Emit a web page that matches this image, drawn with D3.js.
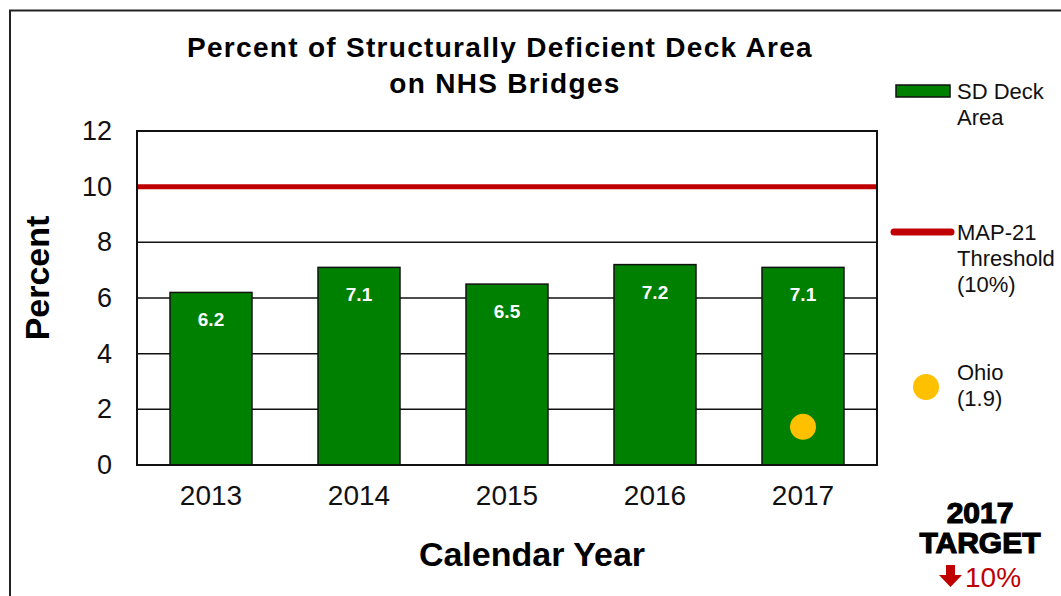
<!DOCTYPE html>
<html><head><meta charset="utf-8">
<script src="https://cdn.jsdelivr.net/npm/d3@7"></script>
<style>body{margin:0;background:#fff}svg{display:block;font-family:"Liberation Sans",Arial,sans-serif}</style>
</head><body>
<svg id="c" width="1061" height="596"></svg>
<script>
const years = ["2013","2014","2015","2016","2017"];
const sdDeckArea = [6.2, 7.1, 6.5, 7.2, 7.1];
const threshold = 10;
const ohioValue = 1.37; // plotted position as it appears
const ohioLabel = "(1.9)";
const yTicks = [0, 2, 4, 6, 8, 10, 12];

const svg = d3.select("#c");
const m = {l:137, r:877, t:131, b:465};
const x = d3.scaleBand().domain(years).range([m.l, m.r]).paddingInner(0.446).paddingOuter(0.223);
const y = d3.scaleLinear().domain([0, 12]).range([m.b, m.t]);

// outer frame
svg.append("path").attr("d","M10,596 V10.5 H1061").attr("fill","none").attr("stroke","#222").attr("stroke-width",2);

// title
svg.append("text").attr("x",500).attr("y",57).attr("text-anchor","middle").attr("font-size",28).attr("letter-spacing",1.3).attr("font-weight","bold").text("Percent of Structurally Deficient Deck Area");
svg.append("text").attr("x",505).attr("y",93).attr("text-anchor","middle").attr("font-size",28).attr("letter-spacing",1.3).attr("font-weight","bold").text("on NHS Bridges");

// gridlines
svg.append("g").selectAll("line").data(yTicks.filter(d=>d>0 && d<12 && d!==threshold)).join("line")
  .attr("x1",m.l).attr("x2",m.r).attr("y1",d=>y(d)).attr("y2",d=>y(d)).attr("stroke","#111").attr("stroke-width",1.5);

// y axis labels
const ya = svg.append("g").attr("transform",`translate(${m.l},0)`).call(d3.axisLeft(y).tickValues(yTicks).tickSize(0).tickPadding(25));
ya.select(".domain").remove();
ya.selectAll("text").attr("font-size",27).attr("font-family","Liberation Sans, Arial, sans-serif").attr("fill","#111");

// x axis labels
const xa = svg.append("g").attr("transform",`translate(0,${m.b})`).call(d3.axisBottom(x).tickSize(0).tickPadding(20));
xa.select(".domain").remove();
xa.selectAll("text").attr("font-size",28).attr("font-family","Liberation Sans, Arial, sans-serif").attr("fill","#111");

// bars
svg.append("g").selectAll("rect").data(years).join("rect")
  .attr("x",d=>x(d)).attr("width",x.bandwidth())
  .attr("y",(d,i)=>y(sdDeckArea[i])).attr("height",(d,i)=>y(0)-y(sdDeckArea[i]))
  .attr("fill","#008000").attr("stroke","#111").attr("stroke-width",1.5);

// bar labels
svg.append("g").selectAll("text").data(years).join("text")
  .attr("x",d=>x(d)+x.bandwidth()/2).attr("y",(d,i)=>y(sdDeckArea[i])+34)
  .attr("text-anchor","middle").attr("fill","#fff").attr("font-size",19).attr("font-weight","bold")
  .text((d,i)=>sdDeckArea[i].toFixed(1));

// threshold line
svg.append("line").attr("x1",m.l).attr("x2",m.r).attr("y1",y(threshold)).attr("y2",y(threshold))
  .attr("stroke","#c00000").attr("stroke-width",5);

// plot border
svg.append("rect").attr("x",m.l).attr("y",m.t).attr("width",m.r-m.l).attr("height",m.b-m.t)
  .attr("fill","none").attr("stroke","#111").attr("stroke-width",2);

// Ohio point
svg.append("circle").attr("cx",x("2017")+x.bandwidth()/2).attr("cy",y(ohioValue)).attr("r",13).attr("fill","#ffc000");

// axis titles
svg.append("text").attr("transform","translate(49,278) rotate(-90)").attr("text-anchor","middle").attr("font-size",34).attr("font-weight","bold").text("Percent");
svg.append("text").attr("x",532).attr("y",566).attr("text-anchor","middle").attr("font-size",34).attr("font-weight","bold").text("Calendar Year");

// legend
const lg = svg.append("g").attr("font-size",22).attr("fill","#111");
lg.append("rect").attr("x",896).attr("y",85).attr("width",54).attr("height",12).attr("fill","#008000").attr("stroke","#111").attr("stroke-width",1.5);
lg.append("text").attr("x",957).attr("y",99).text("SD Deck");
lg.append("text").attr("x",957).attr("y",125).text("Area");
lg.append("line").attr("x1",894).attr("x2",951).attr("y1",232).attr("y2",232).attr("stroke","#c00000").attr("stroke-width",7).attr("stroke-linecap","round");
lg.append("text").attr("x",957).attr("y",240).text("MAP-21");
lg.append("text").attr("x",957).attr("y",266).text("Threshold");
lg.append("text").attr("x",957).attr("y",292).text("(10%)");
lg.append("circle").attr("cx",926).attr("cy",387).attr("r",13).attr("fill","#ffc000");
lg.append("text").attr("x",957).attr("y",380).text("Ohio");
lg.append("text").attr("x",957).attr("y",406).text(ohioLabel);

// target
svg.append("text").attr("x",980).attr("y",523).attr("text-anchor","middle").attr("font-size",30).attr("font-weight","900").attr("stroke","#000").attr("stroke-width",1.2).text("2017");
svg.append("text").attr("x",980).attr("y",553).attr("text-anchor","middle").attr("font-size",30).attr("font-weight","900").attr("stroke","#000").attr("stroke-width",1.2).text("TARGET");
svg.append("path").attr("d","M946,565 h9 v10 h7 l-11.5,12 l-11.5,-12 h7 z").attr("fill","#c00000");
svg.append("text").attr("x",965).attr("y",587).attr("font-size",28).attr("fill","#c00000").text("10%");
</script>
</body></html>
